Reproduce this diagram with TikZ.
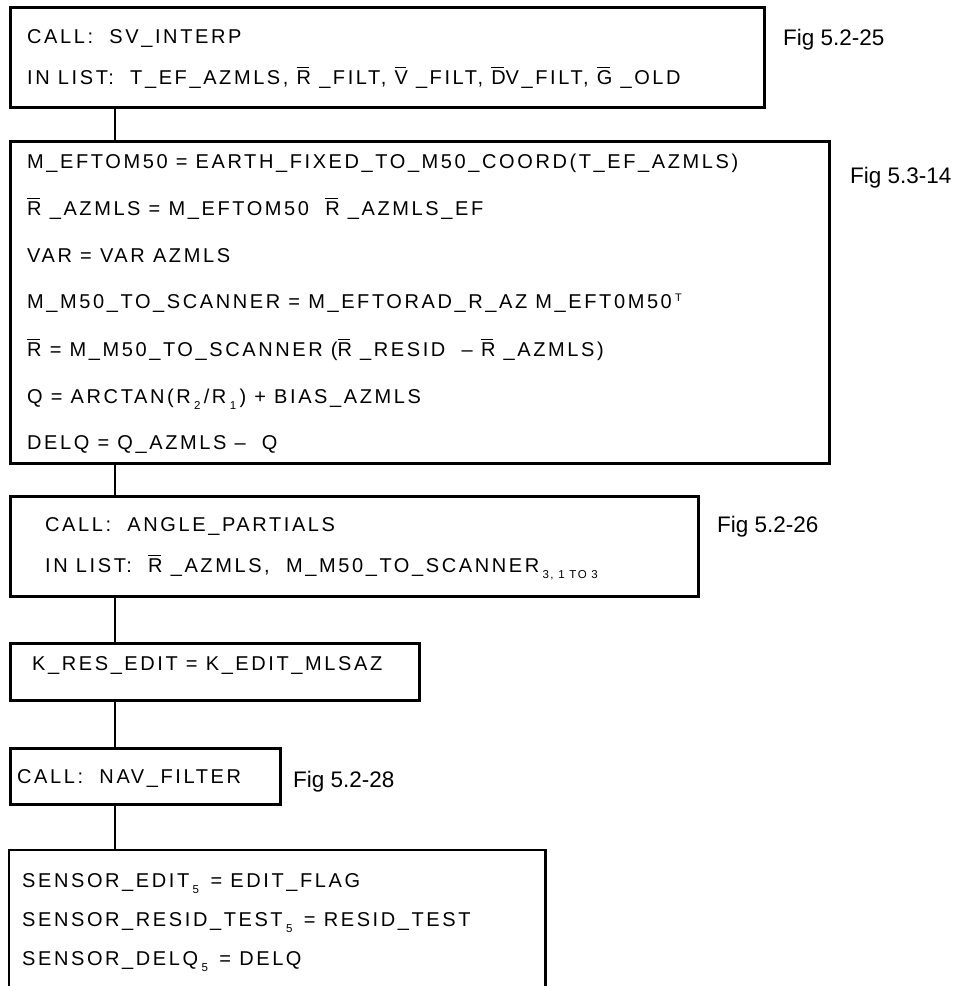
\documentclass[tikz,border=0pt]{standalone}
\usepackage{fontspec}
\setmainfont{Liberation Sans}
\newfontfamily\trkfont[LetterSpace=13]{Liberation Sans}
\newfontfamily\figfont{Liberation Sans}
\newsavebox\ovlbox
\newcommand\ovl[1]{\sbox\ovlbox{#1}\rlap{\raisebox{\dimexpr\ht\ovlbox+2.5pt\relax}{\rule{\dimexpr\wd\ovlbox-2pt\relax}{1pt}}}\usebox\ovlbox}
\newcommand\lsub[1]{\,\raisebox{-6pt}{\fontsize{11.5}{11.5}\selectfont #1}\,}
\newcommand\lsup[1]{\,\raisebox{7pt}{\fontsize{11}{11}\selectfont #1}}
\tikzset{
  box/.style={draw, line width=2.8pt, inner sep=0pt, anchor=north west},
  openbox/.style={inner sep=0pt, anchor=north west},
  conn/.style={line width=2.5pt},
  txt/.style={anchor=base west, inner sep=0pt, font=\trkfont\fontsize{20}{22}\selectfont},
  figlbl/.style={anchor=base west, inner sep=0pt, font=\figfont\fontsize{22.5}{24}\selectfont}
}
\begin{document}
\begin{tikzpicture}[x=1pt,y=-1pt]
\useasboundingbox (0,0) rectangle (961,986);
% boxes
\node[box, minimum width=754pt, minimum height=100pt] (b1) at (9,6) {};
\node[box, minimum width=819pt, minimum height=322pt] (b2) at (9,140) {};
\node[box, minimum width=688pt, minimum height=100pt] (b3) at (9,495) {};
\node[box, minimum width=409pt, minimum height=57pt] (b4) at (9,642) {};
\node[box, minimum width=270pt, minimum height=56pt] (b5) at (9,747) {};
\node[openbox, minimum width=536pt, minimum height=145pt] (b6) at (9,850) {};
\draw[box] (b6.south west) -- (b6.north west) -- (b6.north east) -- (b6.south east);
% connectors
\draw[conn] ([xshift=106pt]b1.south west) -- ([xshift=106pt]b2.north west);
\draw[conn] ([xshift=106pt]b2.south west) -- ([xshift=106pt]b3.north west);
\draw[conn] ([xshift=106pt]b3.south west) -- ([xshift=106pt]b4.north west);
\draw[conn] ([xshift=106pt]b4.south west) -- ([xshift=106pt]b5.north west);
\draw[conn] ([xshift=106pt]b5.south west) -- ([xshift=106pt]b6.north west);
% box 1
\node[txt] (t1a) at (27,43) {CALL:\ \ SV\_INTERP};
\node[txt] (t1b) at (27,84) {IN LIST:\ \ T\_EF\_AZMLS, \ovl{R} \_FILT, \ovl{V} \_FILT, \ovl{D}V\_FILT, \ovl{G} \_OLD};
\node[figlbl] (f1) at (783,45) {Fig 5.2-25};
% box 2
\node[txt] (t2a) at (27,168) {M\_EFTOM50 = EARTH\_FIXED\_TO\_M50\_COORD(T\_EF\_AZMLS)};
\node[txt] (t2b) at (27,215) {\ovl{R} \_AZMLS = M\_EFTOM50\ \ \ovl{R} \_AZMLS\_EF};
\node[txt] (t2c) at (27,262) {VAR = VAR AZMLS};
\node[txt] (t2d) at (27,308) {M\_M50\_TO\_SCANNER = M\_EFTORAD\_R\_AZ M\_EFT0M50\lsup{T}};
\node[txt] (t2e) at (27,356) {\ovl{R} = M\_M50\_TO\_SCANNER (\ovl{R} \_RESID\ \ – \ovl{R} \_AZMLS)};
\node[txt] (t2f) at (27,403) {Q = ARCTAN(R\lsub{2}/R\lsub{1}) + BIAS\_AZMLS};
\node[txt] (t2g) at (27,449) {DELQ = Q\_AZMLS –\ \ Q};
\node[figlbl] (f2) at (850,183) {Fig 5.3-14};
% box 3
\node[txt] (t3a) at (45,531) {CALL:\ \ ANGLE\_PARTIALS};
\node[txt] (t3b) at (45,572) {IN LIST:\ \ \ovl{R} \_AZMLS,\ \ M\_M50\_TO\_SCANNER\lsub{3, 1 TO 3}};
\node[figlbl] (f3) at (717,532) {Fig 5.2-26};
% box 4
\node[txt] (t4) at (32,670) {K\_RES\_EDIT = K\_EDIT\_MLSAZ};
% box 5
\node[txt] (t5) at (17,783) {CALL:\ \ NAV\_FILTER};
\node[figlbl] (f5) at (293,787) {Fig 5.2-28};
% box 6
\node[txt] (t6a) at (22,887) {SENSOR\_EDIT\lsub{5}\ = EDIT\_FLAG};
\node[txt] (t6b) at (22,926) {SENSOR\_RESID\_TEST\lsub{5}\ = RESID\_TEST};
\node[txt] (t6c) at (22,965) {SENSOR\_DELQ\lsub{5}\ = DELQ};
\end{tikzpicture}
\end{document}
